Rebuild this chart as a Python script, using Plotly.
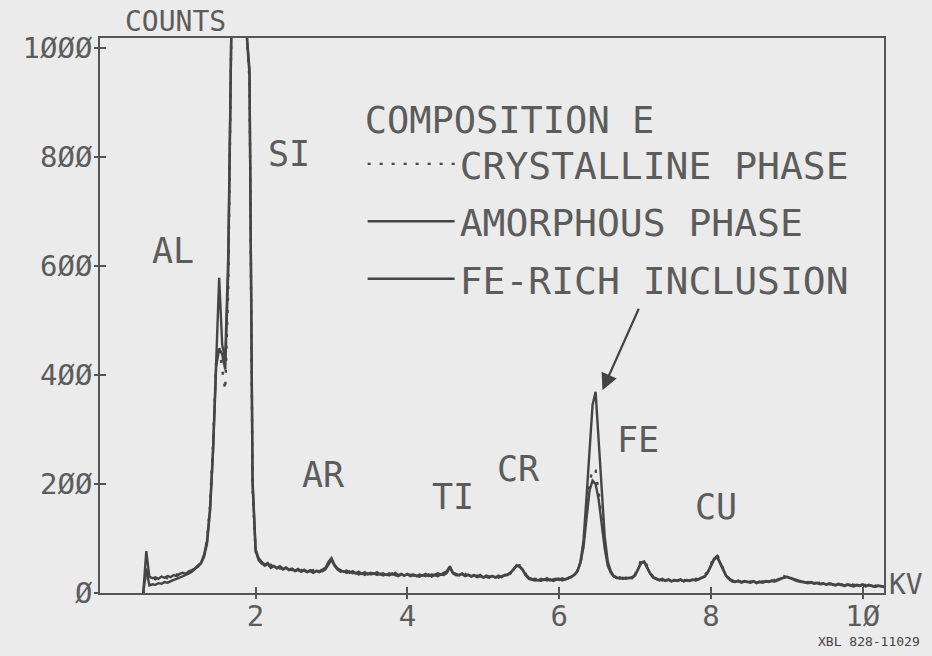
import plotly.graph_objects as go

# ---------------- data ----------------
E_START = 0.52      # kV, first channel
E_STEP = 0.04       # kV per channel

crystalline = [
    0, 40, 26, 29, 25, 28, 26, 29, 27, 30,
    31, 34, 33, 36, 38, 37, 41, 46, 48, 56,
    68, 98, 162, 275, 425, 455, 410, 372, 560, 1030,
    1030, 1030, 1030, 1030, 1030, 940, 190, 76, 61, 54,
    54, 50, 52, 47, 50, 45, 48, 44, 46, 42,
    44, 40, 42, 39, 43, 40, 42, 39, 41, 40,
    44, 54, 60, 55, 44, 40, 41, 38, 40, 37,
    38, 35, 37, 34, 37, 36, 34, 37, 35, 34,
    35, 33, 36, 32, 35, 34, 33, 31, 35, 32,
    33, 31, 34, 32, 35, 32, 35, 33, 35, 36,
    39, 46, 38, 34, 35, 33, 35, 31, 33, 30,
    32, 29, 31, 30, 28, 31, 30, 28, 31, 30,
    32, 36, 45, 49, 51, 41, 35, 27, 25, 26,
    25, 23, 26, 24, 26, 23, 25, 27, 24, 26,
    27, 31, 32, 41, 53, 88, 140, 200, 228, 225,
    185, 134, 86, 53, 38, 31, 28, 26, 29, 27,
    29, 28, 34, 46, 60, 62, 50, 37, 30, 27,
    25, 23, 26, 24, 25, 23, 25, 22, 24, 23,
    25, 23, 26, 25, 29, 33, 41, 54, 66, 70,
    60, 45, 34, 27, 22, 23, 21, 22, 20, 22,
    21, 20, 22, 20, 21, 20, 22, 21, 24, 26,
    28, 31, 29, 27, 25, 23, 21, 22, 19, 20,
    18, 20, 17, 19, 17, 18, 16, 17, 18, 16,
    15, 16, 14, 16, 15, 14, 16, 13, 15, 14,
    13, 14, 12, 13, 14,
]

amorphous = [
    0, 77, 30, 27, 29, 26, 30, 28, 31, 29,
    33, 31, 35, 37, 35, 40, 42, 45, 50, 55,
    70, 95, 155, 265, 420, 578, 455, 430, 620, 1030,
    1030, 1030, 1030, 1030, 1030, 960, 210, 80, 64, 57,
    52, 55, 48, 50, 46, 49, 44, 47, 43, 45,
    41, 44, 40, 43, 39, 42, 38, 41, 40, 43,
    46, 57, 64, 52, 45, 42, 39, 41, 37, 40,
    36, 39, 35, 38, 34, 37, 35, 38, 34, 36,
    33, 36, 34, 37, 33, 35, 32, 35, 33, 34,
    31, 34, 32, 35, 31, 34, 33, 36, 34, 37,
    40, 49, 37, 35, 33, 36, 32, 34, 31, 33,
    30, 33, 29, 32, 30, 31, 29, 32, 30, 33,
    34, 37, 44, 51, 49, 43, 33, 28, 26, 25,
    23, 26, 24, 27, 23, 25, 26, 24, 27, 25,
    28, 30, 33, 39, 55, 84, 135, 188, 206, 200,
    172, 126, 82, 50, 37, 30, 27, 29, 26, 28,
    27, 29, 33, 44, 56, 58, 48, 36, 29, 26,
    24, 26, 23, 25, 22, 24, 23, 25, 22, 24,
    23, 25, 24, 26, 28, 31, 39, 51, 63, 68,
    56, 43, 32, 26, 23, 21, 23, 20, 22, 21,
    20, 22, 19, 21, 20, 22, 21, 23, 22, 25,
    27, 29, 30, 28, 26, 24, 22, 21, 20, 19,
    20, 18, 19, 17, 18, 16, 18, 17, 15, 17,
    16, 14, 16, 15, 13, 15, 14, 16, 13, 15,
    14, 12, 14, 13, 12,
]

fe_rich = [
    0, 45, 14, 16, 15, 18, 17, 20, 19, 22,
    24, 26, 28, 31, 33, 36, 39, 44, 49, 54,
    66, 90, 150, 260, 415, 448, 438, 410, 590, 1030,
    1030, 1030, 1030, 1030, 1030, 950, 200, 78, 60, 55,
    50, 53, 46, 49, 45, 47, 43, 46, 42, 44,
    40, 42, 39, 41, 38, 40, 37, 40, 38, 41,
    43, 52, 61, 50, 43, 39, 40, 37, 39, 36,
    37, 34, 36, 33, 36, 34, 36, 33, 35, 32,
    34, 32, 35, 33, 31, 34, 32, 34, 31, 33,
    32, 30, 33, 31, 34, 30, 33, 31, 34, 33,
    37, 47, 36, 33, 32, 35, 31, 33, 30, 32,
    29, 31, 28, 30, 29, 31, 28, 30, 29, 32,
    33, 38, 43, 50, 48, 42, 32, 26, 24, 23,
    24, 22, 25, 23, 25, 22, 24, 26, 23, 25,
    27, 29, 34, 40, 57, 95, 175, 265, 345, 369,
    282, 190, 104, 58, 40, 31, 28, 26, 28, 26,
    28, 27, 32, 43, 55, 57, 47, 35, 28, 25,
    23, 25, 22, 24, 21, 23, 22, 24, 21, 23,
    22, 24, 23, 25, 27, 30, 38, 50, 61, 66,
    55, 42, 31, 25, 21, 20, 22, 19, 21, 20,
    19, 21, 18, 20, 19, 21, 20, 22, 21, 23,
    26, 28, 29, 27, 25, 22, 21, 20, 19, 18,
    19, 17, 18, 16, 17, 15, 17, 16, 14, 16,
    15, 13, 15, 14, 12, 14, 13, 15, 12, 14,
    13, 11, 13, 12, 11,
]

energy = [round(E_START + E_STEP * i, 2) for i in range(len(amorphous))]

series_names = ["CRYSTALLINE PHASE", "AMORPHOUS PHASE", "FE-RICH INCLUSION"]
legend_title = "COMPOSITION E"

x_ticks = [2, 4, 6, 8, 10]
x_tick_text = ["2", "4", "6", "8", "1Ø"]
y_ticks = [0, 200, 400, 600, 800, 1000]
y_tick_text = ["Ø", "2ØØ", "4ØØ", "6ØØ", "8ØØ", "1ØØØ"]

peak_labels = ["AL", "SI", "AR", "TI", "CR", "FE", "CU"]
peak_label_x = [0.91, 2.44, 2.89, 4.60, 5.47, 7.04, 8.07]
peak_label_y = [628, 806, 216, 176, 228, 281, 158]

arrow_target = (6.57, 372)

# ---------------- styling ----------------
INK = "#454545"
TEXT = "#5c5c5c"
BG = "#ebebeb"
FONT = "DejaVu Sans Mono"
X_RANGE = [-0.05, 10.28]
Y_RANGE = [0, 1018]

fig = go.Figure()

styles = [
    dict(color=INK, width=2.4, dash="3px,9px"),
    dict(color=INK, width=2.4),
    dict(color=INK, width=2.4),
]
for name, vals, st, grp in zip(series_names, [crystalline, amorphous, fe_rich], styles, ["a", "b", "c"]):
    fig.add_trace(go.Scatter(
        x=energy, y=vals, mode="lines", name=name, line=st,
        legendgroup=grp, hoverinfo="skip",
    ))

# helper empty traces so that the overlay axes (outer tick marks) are drawn
fig.add_trace(go.Scatter(x=[], y=[], xaxis="x2", yaxis="y", showlegend=False, hoverinfo="skip"))
fig.add_trace(go.Scatter(x=[], y=[], xaxis="x", yaxis="y2", showlegend=False, hoverinfo="skip"))

for lab, lx, ly in zip(peak_labels, peak_label_x, peak_label_y):
    fig.add_annotation(x=lx, y=ly, text=lab, showarrow=False,
                       xanchor="center", yanchor="middle",
                       font=dict(family=FONT, size=35, color=TEXT))

fig.add_annotation(x=arrow_target[0], y=arrow_target[1], text="", showarrow=True,
                   ax=37, ay=-83, arrowhead=2, arrowsize=1.5, arrowwidth=2.2,
                   arrowcolor="#444444", standoff=0)

fig.add_annotation(xref="paper", yref="paper", x=0.0957, y=1.0306, text="COUNTS",
                   xanchor="center", yanchor="middle",
                   showarrow=False, font=dict(family=FONT, size=28, color=TEXT))
fig.add_annotation(xref="paper", yref="paper", x=1.0, xanchor="left", xshift=3,
                   y=0.016, yanchor="middle", text="KV", showarrow=False,
                   font=dict(family=FONT, size=28, color=TEXT))
fig.add_annotation(xref="paper", yref="paper", x=0.981, y=-0.088, text="XBL 828-11029",
                   xanchor="center", yanchor="middle",
                   showarrow=False, font=dict(family=FONT, size=13, color="#444444"))

axis_common = dict(showgrid=False, zeroline=False)
fig.update_layout(
    width=932, height=656,
    margin=dict(l=100, r=48, t=38, b=63),
    paper_bgcolor=BG, plot_bgcolor=BG,
    font=dict(family=FONT, color=TEXT),
    xaxis=dict(range=X_RANGE, tickvals=x_ticks, ticktext=x_tick_text,
               ticks="inside", ticklen=6, tickwidth=1.5, tickcolor="#555",
               ticklabelstandoff=-4,
               showline=True, linecolor="#555", linewidth=1.5, mirror=True,
               tickfont=dict(family=FONT, size=29, color=TEXT), **axis_common),
    yaxis=dict(range=Y_RANGE, tickvals=y_ticks, ticktext=y_tick_text,
               ticks="inside", ticklen=6, tickwidth=1.5, tickcolor="#555",
               showline=True, linecolor="#555", linewidth=1.5, mirror=True,
               tickfont=dict(family=FONT, size=29, color=TEXT), **axis_common),
    xaxis2=dict(range=X_RANGE, overlaying="x", anchor="y", side="bottom",
                tickvals=x_ticks, ticks="outside", ticklen=5, tickwidth=1.5, tickcolor="#555",
                showticklabels=False, showline=False, **axis_common),
    yaxis2=dict(range=Y_RANGE, overlaying="y", anchor="x", side="left",
                tickvals=y_ticks, ticks="outside", ticklen=5, tickwidth=1.5, tickcolor="#555",
                showticklabels=False, showline=False, **axis_common),
    showlegend=True,
    legend=dict(x=0.335, y=0.916, xanchor="left", yanchor="top",
                bgcolor="rgba(0,0,0,0)", borderwidth=0,
                font=dict(family=FONT, size=38, color=TEXT),
                title=dict(text=legend_title, font=dict(family=FONT, size=37, color=TEXT)),
                itemwidth=87, tracegroupgap=5, traceorder="grouped"),
)

fig.write_html("out.html", config={"displayModeBar": False})
